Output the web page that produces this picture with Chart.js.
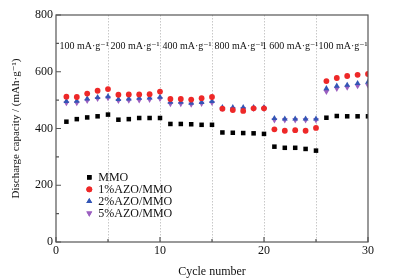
<!DOCTYPE html>
<html lang="en">
<head>
<meta charset="UTF-8">
<script src="https://cdn.jsdelivr.net/npm/chart.js"></script>
<title>Rate capability</title>
<style>
  body { margin: 0; background: #fff; }
  canvas { display: block; }
</style>
</head>
<body>
<canvas id="grafico" width="404" height="279"></canvas>
<script>
// cycle numbers 1..30
const cycles = [1,2,3,4,5,6,7,8,9,10,11,12,13,14,15,16,17,18,19,20,21,22,23,24,25,26,27,28,29,30];

const mmo   = [424,433,439,443,449, 431,433,437,437,437, 416,416,415,413,413, 386,385,384,383,381, 336,332,332,328,322, 438,444,443,443,443];
const azo1  = [512,511,523,533,539, 519,520,520,521,530, 504,504,502,507,511, 470,465,462,471,471, 397,392,394,392,402, 567,578,585,589,592];
const azo2  = [496,497,505,510,513, 503,505,507,508,511, 493,493,490,492,496, 474,474,474,474,474, 436,434,434,434,434, 541,550,553,559,564];
const azo5  = [490,490,498,505,508, 498,499,500,502,505, 487,487,485,488,491, 470,470,470,470,470, 430,430,430,430,430, 530,541,545,550,553];

const seriesNames = ['MMO', '1%AZO/MMO', '2%AZO/MMO', '5%AZO/MMO'];
const rateLabels = ['100 mA·g⁻¹', '200 mA·g⁻¹', '400 mA·g⁻¹', '800 mA·g⁻¹', '1 600 mA·g⁻¹', '100 mA·g⁻¹'];
const rateCenters = [2.7, 7.6, 12.6, 17.6, 22.5, 27.6];
const dividers = [5, 10, 15, 20, 25];

const serif = "'Liberation Serif', 'DejaVu Serif', serif";

function pts(vals) {
    return vals.map((v, i) => ({ x: cycles[i], y: v }));
}

const boxPlugin = {
    id: 'boxPlugin',
    beforeDatasetsDraw(chart) {
        // dotted separators between current densities
        const ctx = chart.ctx;
        const a = chart.chartArea;
        const xs = chart.scales.x;
        ctx.save();
        ctx.strokeStyle = '#c8c8c8';
        ctx.lineWidth = 1;
        ctx.setLineDash([1.5, 1.5]);
        ctx.beginPath();
        dividers.forEach(d => {
            const px = Math.round(xs.getPixelForValue(d)) + 0.5;
            ctx.moveTo(px, a.top); ctx.lineTo(px, a.bottom);
        });
        ctx.stroke();
        ctx.restore();
    },
    afterDraw(chart) {
        const ctx = chart.ctx;
        const a = chart.chartArea;
        const xs = chart.scales.x, ys = chart.scales.y;
        ctx.save();
        // frame
        ctx.strokeStyle = '#555';
        ctx.lineWidth = 1.2;
        ctx.strokeRect(a.left, a.top, a.right - a.left, a.bottom - a.top);
        // inward ticks
        ctx.beginPath();
        for (let v = 0; v <= 30; v += 5) {
            const px = xs.getPixelForValue(v);
            const len = v % 10 === 0 ? 5 : 3;
            ctx.moveTo(px, a.bottom); ctx.lineTo(px, a.bottom - len);
        }
        for (let v = 0; v <= 800; v += 100) {
            const py = ys.getPixelForValue(v);
            const len = v % 200 === 0 ? 5 : 3;
            ctx.moveTo(a.left, py); ctx.lineTo(a.left + len, py);
        }
        ctx.stroke();

        // current density labels
        ctx.fillStyle = '#111';
        ctx.font = '10px ' + serif;
        ctx.textAlign = 'center';
        ctx.textBaseline = 'middle';
        rateLabels.forEach((t, i) => {
            ctx.fillText(t, xs.getPixelForValue(rateCenters[i]), ys.getPixelForValue(688));
        });

        // legend
        ctx.textAlign = 'left';
        ctx.font = '12px ' + serif;
        chart.data.datasets.forEach((ds, i) => {
            const lx = xs.getPixelForValue(3.2);
            const ly = ys.getPixelForValue(228) + i * 12;
            ctx.fillStyle = ds.backgroundColor;
            Chart.helpers.drawPoint(ctx, {
                pointStyle: ds.pointStyle,
                radius: ds.pointRadius,
                rotation: ds.rotation || 0,
                borderWidth: 0
            }, lx, ly);
            ctx.fill();
            ctx.fillStyle = '#111';
            ctx.fillText(ds.label, lx + 9, ly + 1);
        });
        ctx.restore();
    }
};

const ctx = document.getElementById('grafico').getContext('2d');

new Chart(ctx, {
    type: 'scatter',
    data: {
        datasets: [
            { label: seriesNames[0], data: pts(mmo),  pointStyle: 'rect',     pointRadius: 3.2, backgroundColor: '#000000', borderWidth: 0 },
            { label: seriesNames[1], data: pts(azo1), pointStyle: 'circle',   pointRadius: 2.9, backgroundColor: '#ee2828', borderWidth: 0 },
            { label: seriesNames[2], data: pts(azo2), pointStyle: 'triangle', pointRadius: 3.4, backgroundColor: '#3355b5', borderWidth: 0 },
            { label: seriesNames[3], data: pts(azo5), pointStyle: 'triangle', rotation: 180, pointRadius: 3.4, backgroundColor: '#9b5fc0', borderWidth: 0 }
        ]
    },
    options: {
        responsive: false,
        animation: false,
        layout: { padding: { top: 15, right: 36, left: 10, bottom: 0 } },
        plugins: { legend: { display: false }, tooltip: { enabled: false } },
        scales: {
            x: {
                type: 'linear',
                min: 0, max: 30,
                ticks: {
                    stepSize: 10,
                    color: '#111',
                    font: { family: serif, size: 12 },
                    padding: 2,
                    maxRotation: 0
                },
                grid: { display: false, drawTicks: false },
                border: { display: false },
                title: {
                    display: true,
                    text: 'Cycle number',
                    color: '#111',
                    font: { family: serif, size: 12 },
                    padding: { top: 2, bottom: 0 }
                },
                afterFit: s => { s.height = 37; }
            },
            y: {
                min: 0, max: 800,
                ticks: {
                    stepSize: 200,
                    color: '#111',
                    font: { family: serif, size: 12 },
                    padding: 3
                },
                grid: { display: false, drawTicks: false },
                border: { display: false },
                title: {
                    display: true,
                    text: 'Discharge capacity / (mAh·g⁻¹)',
                    color: '#111',
                    font: { family: serif, size: 11 },
                    padding: { top: 0, bottom: 4 }
                },
                afterFit: s => { s.width = 46; }
            }
        }
    },
    plugins: [boxPlugin]
});
</script>
</body>
</html>
